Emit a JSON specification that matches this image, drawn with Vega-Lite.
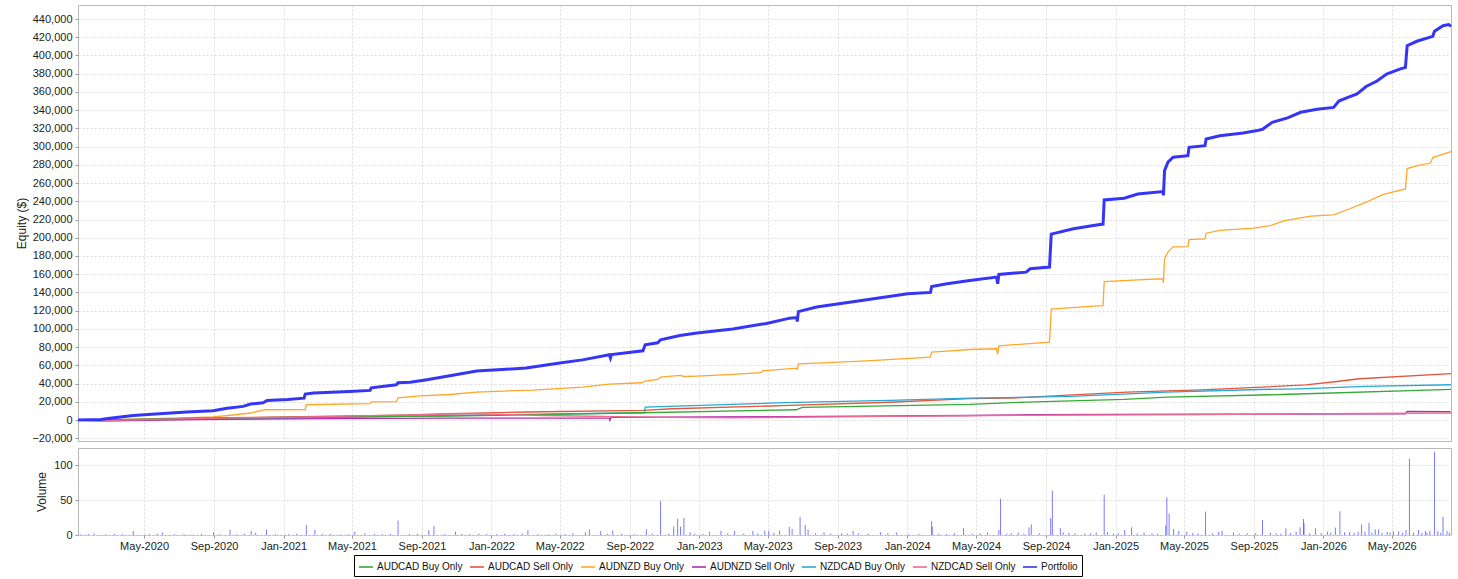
{
  "$schema": "https://vega.github.io/schema/vega-lite/v6.json",
  "padding": {"left": 14, "top": 4, "right": 8, "bottom": 0},
  "background": "white",
  "spacing": 3,
  "config": {
    "font": "Liberation Sans",
    "view": {"stroke": "#b8b8b8"},
    "axis": {
      "labelFont": "Liberation Sans", "labelFontSize": 11, "labelColor": "#222222",
      "titleFont": "Liberation Sans", "titleFontSize": 12, "titleFontWeight": "normal", "titleColor": "#222222",
      "gridColor": "#dcdcdc", "gridDash": [2, 2], "domain": false, "tickColor": "#999999", "tickSize": 3, "labelPadding": 3
    }
  },
  "datasets": {
    "equity": [
      {"series": "Portfolio", "date": "2020-01-06", "value": 0},
      {"series": "Portfolio", "date": "2020-02-15", "value": 700},
      {"series": "Portfolio", "date": "2020-03-02", "value": 2000},
      {"series": "Portfolio", "date": "2020-04-12", "value": 5000},
      {"series": "Portfolio", "date": "2020-05-28", "value": 6900},
      {"series": "Portfolio", "date": "2020-07-15", "value": 8800},
      {"series": "Portfolio", "date": "2020-08-30", "value": 10200},
      {"series": "Portfolio", "date": "2020-09-24", "value": 13000},
      {"series": "Portfolio", "date": "2020-10-22", "value": 15000},
      {"series": "Portfolio", "date": "2020-11-04", "value": 17500},
      {"series": "Portfolio", "date": "2020-11-26", "value": 19000},
      {"series": "Portfolio", "date": "2020-12-03", "value": 21500},
      {"series": "Portfolio", "date": "2021-01-08", "value": 22600},
      {"series": "Portfolio", "date": "2021-02-06", "value": 24000},
      {"series": "Portfolio", "date": "2021-02-08", "value": 28500},
      {"series": "Portfolio", "date": "2021-02-23", "value": 29600},
      {"series": "Portfolio", "date": "2021-04-27", "value": 31400},
      {"series": "Portfolio", "date": "2021-06-02", "value": 32500},
      {"series": "Portfolio", "date": "2021-06-04", "value": 35400},
      {"series": "Portfolio", "date": "2021-07-18", "value": 38700},
      {"series": "Portfolio", "date": "2021-07-21", "value": 40900},
      {"series": "Portfolio", "date": "2021-08-11", "value": 41500},
      {"series": "Portfolio", "date": "2021-09-07", "value": 44000},
      {"series": "Portfolio", "date": "2021-10-20", "value": 48500},
      {"series": "Portfolio", "date": "2021-12-06", "value": 53700},
      {"series": "Portfolio", "date": "2022-03-03", "value": 57000},
      {"series": "Portfolio", "date": "2022-05-01", "value": 62500},
      {"series": "Portfolio", "date": "2022-06-10", "value": 66000},
      {"series": "Portfolio", "date": "2022-07-27", "value": 71600},
      {"series": "Portfolio", "date": "2022-07-29", "value": 68000},
      {"series": "Portfolio", "date": "2022-07-31", "value": 71800},
      {"series": "Portfolio", "date": "2022-09-24", "value": 76000},
      {"series": "Portfolio", "date": "2022-09-28", "value": 82600},
      {"series": "Portfolio", "date": "2022-10-20", "value": 84700},
      {"series": "Portfolio", "date": "2022-10-25", "value": 88000},
      {"series": "Portfolio", "date": "2022-11-28", "value": 92800},
      {"series": "Portfolio", "date": "2022-12-28", "value": 95400},
      {"series": "Portfolio", "date": "2023-03-01", "value": 100000},
      {"series": "Portfolio", "date": "2023-04-29", "value": 106000},
      {"series": "Portfolio", "date": "2023-06-09", "value": 111800},
      {"series": "Portfolio", "date": "2023-06-21", "value": 112500},
      {"series": "Portfolio", "date": "2023-06-22", "value": 108000},
      {"series": "Portfolio", "date": "2023-06-24", "value": 119000},
      {"series": "Portfolio", "date": "2023-07-26", "value": 124000},
      {"series": "Portfolio", "date": "2023-10-22", "value": 132000},
      {"series": "Portfolio", "date": "2024-01-02", "value": 138500},
      {"series": "Portfolio", "date": "2024-02-11", "value": 140000},
      {"series": "Portfolio", "date": "2024-02-13", "value": 146500},
      {"series": "Portfolio", "date": "2024-03-11", "value": 149500},
      {"series": "Portfolio", "date": "2024-04-20", "value": 153000},
      {"series": "Portfolio", "date": "2024-06-06", "value": 156800},
      {"series": "Portfolio", "date": "2024-06-08", "value": 149500},
      {"series": "Portfolio", "date": "2024-06-10", "value": 159700},
      {"series": "Portfolio", "date": "2024-07-28", "value": 162300},
      {"series": "Portfolio", "date": "2024-08-04", "value": 166000},
      {"series": "Portfolio", "date": "2024-09-07", "value": 167800},
      {"series": "Portfolio", "date": "2024-09-10", "value": 204000},
      {"series": "Portfolio", "date": "2024-10-19", "value": 209800},
      {"series": "Portfolio", "date": "2024-11-23", "value": 213400},
      {"series": "Portfolio", "date": "2024-12-10", "value": 215000},
      {"series": "Portfolio", "date": "2024-12-12", "value": 241500},
      {"series": "Portfolio", "date": "2025-01-16", "value": 243400},
      {"series": "Portfolio", "date": "2025-02-09", "value": 248000},
      {"series": "Portfolio", "date": "2025-03-25", "value": 250700},
      {"series": "Portfolio", "date": "2025-03-26", "value": 246500},
      {"series": "Portfolio", "date": "2025-03-28", "value": 273700},
      {"series": "Portfolio", "date": "2025-04-03", "value": 283000},
      {"series": "Portfolio", "date": "2025-04-12", "value": 288400},
      {"series": "Portfolio", "date": "2025-05-08", "value": 290000},
      {"series": "Portfolio", "date": "2025-05-10", "value": 299300},
      {"series": "Portfolio", "date": "2025-06-07", "value": 301000},
      {"series": "Portfolio", "date": "2025-06-09", "value": 308400},
      {"series": "Portfolio", "date": "2025-07-03", "value": 312000},
      {"series": "Portfolio", "date": "2025-08-13", "value": 315000},
      {"series": "Portfolio", "date": "2025-09-07", "value": 317600},
      {"series": "Portfolio", "date": "2025-09-16", "value": 319000},
      {"series": "Portfolio", "date": "2025-10-03", "value": 326700},
      {"series": "Portfolio", "date": "2025-10-30", "value": 331500},
      {"series": "Portfolio", "date": "2025-11-22", "value": 337700},
      {"series": "Portfolio", "date": "2025-12-21", "value": 341000},
      {"series": "Portfolio", "date": "2026-01-19", "value": 343000},
      {"series": "Portfolio", "date": "2026-01-28", "value": 350000},
      {"series": "Portfolio", "date": "2026-02-13", "value": 354000},
      {"series": "Portfolio", "date": "2026-03-01", "value": 357800},
      {"series": "Portfolio", "date": "2026-03-17", "value": 366000},
      {"series": "Portfolio", "date": "2026-04-05", "value": 372000},
      {"series": "Portfolio", "date": "2026-04-22", "value": 379700},
      {"series": "Portfolio", "date": "2026-05-15", "value": 385000},
      {"series": "Portfolio", "date": "2026-05-25", "value": 387000},
      {"series": "Portfolio", "date": "2026-05-28", "value": 410800},
      {"series": "Portfolio", "date": "2026-06-14", "value": 415600},
      {"series": "Portfolio", "date": "2026-07-12", "value": 421000},
      {"series": "Portfolio", "date": "2026-07-15", "value": 426500},
      {"series": "Portfolio", "date": "2026-07-30", "value": 432700},
      {"series": "Portfolio", "date": "2026-08-09", "value": 434000},
      {"series": "Portfolio", "date": "2026-08-13", "value": 432000},

      {"series": "AUDNZD Buy Only", "date": "2020-01-06", "value": 0},
      {"series": "AUDNZD Buy Only", "date": "2020-03-15", "value": 300},
      {"series": "AUDNZD Buy Only", "date": "2020-05-15", "value": 1500},
      {"series": "AUDNZD Buy Only", "date": "2020-07-20", "value": 2500},
      {"series": "AUDNZD Buy Only", "date": "2020-08-30", "value": 3500},
      {"series": "AUDNZD Buy Only", "date": "2020-09-26", "value": 5000},
      {"series": "AUDNZD Buy Only", "date": "2020-11-04", "value": 7700},
      {"series": "AUDNZD Buy Only", "date": "2020-11-30", "value": 11300},
      {"series": "AUDNZD Buy Only", "date": "2021-02-08", "value": 11500},
      {"series": "AUDNZD Buy Only", "date": "2021-02-10", "value": 16800},
      {"series": "AUDNZD Buy Only", "date": "2021-06-02", "value": 17900},
      {"series": "AUDNZD Buy Only", "date": "2021-06-04", "value": 20000},
      {"series": "AUDNZD Buy Only", "date": "2021-07-18", "value": 20300},
      {"series": "AUDNZD Buy Only", "date": "2021-07-21", "value": 24400},
      {"series": "AUDNZD Buy Only", "date": "2021-08-28", "value": 26500},
      {"series": "AUDNZD Buy Only", "date": "2021-10-20", "value": 28000},
      {"series": "AUDNZD Buy Only", "date": "2021-12-06", "value": 30700},
      {"series": "AUDNZD Buy Only", "date": "2022-03-15", "value": 32900},
      {"series": "AUDNZD Buy Only", "date": "2022-06-10", "value": 36200},
      {"series": "AUDNZD Buy Only", "date": "2022-07-27", "value": 39500},
      {"series": "AUDNZD Buy Only", "date": "2022-09-22", "value": 40900},
      {"series": "AUDNZD Buy Only", "date": "2022-09-28", "value": 42800},
      {"series": "AUDNZD Buy Only", "date": "2022-10-20", "value": 44500},
      {"series": "AUDNZD Buy Only", "date": "2022-10-25", "value": 47100},
      {"series": "AUDNZD Buy Only", "date": "2022-11-28", "value": 48900},
      {"series": "AUDNZD Buy Only", "date": "2022-12-05", "value": 47800},
      {"series": "AUDNZD Buy Only", "date": "2022-12-28", "value": 48200},
      {"series": "AUDNZD Buy Only", "date": "2023-03-01", "value": 50000},
      {"series": "AUDNZD Buy Only", "date": "2023-04-20", "value": 51900},
      {"series": "AUDNZD Buy Only", "date": "2023-04-22", "value": 54000},
      {"series": "AUDNZD Buy Only", "date": "2023-06-21", "value": 57000},
      {"series": "AUDNZD Buy Only", "date": "2023-06-22", "value": 55000},
      {"series": "AUDNZD Buy Only", "date": "2023-06-24", "value": 61700},
      {"series": "AUDNZD Buy Only", "date": "2023-07-26", "value": 62500},
      {"series": "AUDNZD Buy Only", "date": "2023-10-22", "value": 65000},
      {"series": "AUDNZD Buy Only", "date": "2024-02-11", "value": 69000},
      {"series": "AUDNZD Buy Only", "date": "2024-02-13", "value": 74600},
      {"series": "AUDNZD Buy Only", "date": "2024-03-11", "value": 75700},
      {"series": "AUDNZD Buy Only", "date": "2024-04-20", "value": 77400},
      {"series": "AUDNZD Buy Only", "date": "2024-06-06", "value": 78200},
      {"series": "AUDNZD Buy Only", "date": "2024-06-08", "value": 72400},
      {"series": "AUDNZD Buy Only", "date": "2024-06-10", "value": 81500},
      {"series": "AUDNZD Buy Only", "date": "2024-09-07", "value": 85500},
      {"series": "AUDNZD Buy Only", "date": "2024-09-10", "value": 121700},
      {"series": "AUDNZD Buy Only", "date": "2024-11-23", "value": 125000},
      {"series": "AUDNZD Buy Only", "date": "2024-12-10", "value": 125500},
      {"series": "AUDNZD Buy Only", "date": "2024-12-12", "value": 152000},
      {"series": "AUDNZD Buy Only", "date": "2025-02-09", "value": 153800},
      {"series": "AUDNZD Buy Only", "date": "2025-03-25", "value": 155000},
      {"series": "AUDNZD Buy Only", "date": "2025-03-26", "value": 150500},
      {"series": "AUDNZD Buy Only", "date": "2025-03-28", "value": 176900},
      {"series": "AUDNZD Buy Only", "date": "2025-04-03", "value": 184200},
      {"series": "AUDNZD Buy Only", "date": "2025-04-12", "value": 190000},
      {"series": "AUDNZD Buy Only", "date": "2025-05-08", "value": 190200},
      {"series": "AUDNZD Buy Only", "date": "2025-05-10", "value": 198000},
      {"series": "AUDNZD Buy Only", "date": "2025-06-07", "value": 198800},
      {"series": "AUDNZD Buy Only", "date": "2025-06-09", "value": 205000},
      {"series": "AUDNZD Buy Only", "date": "2025-07-03", "value": 208000},
      {"series": "AUDNZD Buy Only", "date": "2025-09-01", "value": 210500},
      {"series": "AUDNZD Buy Only", "date": "2025-09-30", "value": 213400},
      {"series": "AUDNZD Buy Only", "date": "2025-10-25", "value": 218900},
      {"series": "AUDNZD Buy Only", "date": "2025-12-10", "value": 223700},
      {"series": "AUDNZD Buy Only", "date": "2026-01-19", "value": 225000},
      {"series": "AUDNZD Buy Only", "date": "2026-02-13", "value": 231000},
      {"series": "AUDNZD Buy Only", "date": "2026-03-17", "value": 239000},
      {"series": "AUDNZD Buy Only", "date": "2026-04-15", "value": 247400},
      {"series": "AUDNZD Buy Only", "date": "2026-05-25", "value": 253600},
      {"series": "AUDNZD Buy Only", "date": "2026-05-28", "value": 276000},
      {"series": "AUDNZD Buy Only", "date": "2026-06-14", "value": 279000},
      {"series": "AUDNZD Buy Only", "date": "2026-07-08", "value": 282000},
      {"series": "AUDNZD Buy Only", "date": "2026-07-12", "value": 288000},
      {"series": "AUDNZD Buy Only", "date": "2026-08-13", "value": 294500},

      {"series": "AUDCAD Sell Only", "date": "2020-01-06", "value": 0},
      {"series": "AUDCAD Sell Only", "date": "2020-03-01", "value": -500},
      {"series": "AUDCAD Sell Only", "date": "2020-06-01", "value": 1200},
      {"series": "AUDCAD Sell Only", "date": "2020-10-01", "value": 2500},
      {"series": "AUDCAD Sell Only", "date": "2021-01-01", "value": 3500},
      {"series": "AUDCAD Sell Only", "date": "2021-05-01", "value": 4500},
      {"series": "AUDCAD Sell Only", "date": "2021-08-01", "value": 5500},
      {"series": "AUDCAD Sell Only", "date": "2021-10-20", "value": 6900},
      {"series": "AUDCAD Sell Only", "date": "2022-03-03", "value": 8800},
      {"series": "AUDCAD Sell Only", "date": "2022-09-24", "value": 10500},
      {"series": "AUDCAD Sell Only", "date": "2022-11-15", "value": 12400},
      {"series": "AUDCAD Sell Only", "date": "2023-06-09", "value": 16000},
      {"series": "AUDCAD Sell Only", "date": "2023-12-01", "value": 19500},
      {"series": "AUDCAD Sell Only", "date": "2024-04-20", "value": 23400},
      {"series": "AUDCAD Sell Only", "date": "2024-06-30", "value": 24000},
      {"series": "AUDCAD Sell Only", "date": "2024-10-01", "value": 27000},
      {"series": "AUDCAD Sell Only", "date": "2025-01-20", "value": 30700},
      {"series": "AUDCAD Sell Only", "date": "2025-06-01", "value": 33000},
      {"series": "AUDCAD Sell Only", "date": "2025-09-15", "value": 36200},
      {"series": "AUDCAD Sell Only", "date": "2025-12-01", "value": 38500},
      {"series": "AUDCAD Sell Only", "date": "2026-01-25", "value": 42300},
      {"series": "AUDCAD Sell Only", "date": "2026-03-05", "value": 45300},
      {"series": "AUDCAD Sell Only", "date": "2026-08-13", "value": 51000},

      {"series": "NZDCAD Buy Only", "date": "2020-01-06", "value": 0},
      {"series": "NZDCAD Buy Only", "date": "2020-02-10", "value": -1200},
      {"series": "NZDCAD Buy Only", "date": "2020-03-20", "value": -800},
      {"series": "NZDCAD Buy Only", "date": "2020-04-10", "value": 300},
      {"series": "NZDCAD Buy Only", "date": "2020-09-01", "value": 1000},
      {"series": "NZDCAD Buy Only", "date": "2021-03-01", "value": 2500},
      {"series": "NZDCAD Buy Only", "date": "2021-10-20", "value": 5000},
      {"series": "NZDCAD Buy Only", "date": "2022-09-27", "value": 8000},
      {"series": "NZDCAD Buy Only", "date": "2022-09-28", "value": 14200},
      {"series": "NZDCAD Buy Only", "date": "2023-06-01", "value": 19000},
      {"series": "NZDCAD Buy Only", "date": "2023-12-01", "value": 21500},
      {"series": "NZDCAD Buy Only", "date": "2024-04-20", "value": 24000},
      {"series": "NZDCAD Buy Only", "date": "2024-10-15", "value": 26000},
      {"series": "NZDCAD Buy Only", "date": "2025-04-01", "value": 30700},
      {"series": "NZDCAD Buy Only", "date": "2025-09-10", "value": 33500},
      {"series": "NZDCAD Buy Only", "date": "2025-11-20", "value": 34300},
      {"series": "NZDCAD Buy Only", "date": "2026-03-15", "value": 36900},
      {"series": "NZDCAD Buy Only", "date": "2026-08-13", "value": 38700},

      {"series": "AUDCAD Buy Only", "date": "2020-01-06", "value": 0},
      {"series": "AUDCAD Buy Only", "date": "2020-05-01", "value": 1100},
      {"series": "AUDCAD Buy Only", "date": "2020-10-01", "value": 2500},
      {"series": "AUDCAD Buy Only", "date": "2021-07-20", "value": 4000},
      {"series": "AUDCAD Buy Only", "date": "2021-10-20", "value": 4400},
      {"series": "AUDCAD Buy Only", "date": "2022-09-24", "value": 8000},
      {"series": "AUDCAD Buy Only", "date": "2023-06-20", "value": 11300},
      {"series": "AUDCAD Buy Only", "date": "2023-07-01", "value": 13800},
      {"series": "AUDCAD Buy Only", "date": "2024-04-20", "value": 17100},
      {"series": "AUDCAD Buy Only", "date": "2024-07-28", "value": 19700},
      {"series": "AUDCAD Buy Only", "date": "2025-01-16", "value": 22600},
      {"series": "AUDCAD Buy Only", "date": "2025-04-01", "value": 25200},
      {"series": "AUDCAD Buy Only", "date": "2025-10-20", "value": 28000},
      {"series": "AUDCAD Buy Only", "date": "2026-08-13", "value": 33600},

      {"series": "AUDNZD Sell Only", "date": "2020-01-06", "value": 0},
      {"series": "AUDNZD Sell Only", "date": "2020-04-01", "value": -500},
      {"series": "AUDNZD Sell Only", "date": "2020-08-01", "value": 500},
      {"series": "AUDNZD Sell Only", "date": "2021-04-01", "value": 1500},
      {"series": "AUDNZD Sell Only", "date": "2021-10-20", "value": 2200},
      {"series": "AUDNZD Sell Only", "date": "2022-07-27", "value": 2200},
      {"series": "AUDNZD Sell Only", "date": "2022-07-28", "value": -400},
      {"series": "AUDNZD Sell Only", "date": "2022-07-30", "value": 2900},
      {"series": "AUDNZD Sell Only", "date": "2023-06-01", "value": 3700},
      {"series": "AUDNZD Sell Only", "date": "2024-04-20", "value": 5000},
      {"series": "AUDNZD Sell Only", "date": "2024-08-04", "value": 5800},
      {"series": "AUDNZD Sell Only", "date": "2025-06-01", "value": 6400},
      {"series": "AUDNZD Sell Only", "date": "2026-05-25", "value": 6900},
      {"series": "AUDNZD Sell Only", "date": "2026-05-28", "value": 9400},
      {"series": "AUDNZD Sell Only", "date": "2026-08-10", "value": 9300},
      {"series": "AUDNZD Sell Only", "date": "2026-08-13", "value": 8200},

      {"series": "NZDCAD Sell Only", "date": "2020-01-06", "value": 0},
      {"series": "NZDCAD Sell Only", "date": "2020-02-10", "value": -1000},
      {"series": "NZDCAD Sell Only", "date": "2020-06-01", "value": 1000},
      {"series": "NZDCAD Sell Only", "date": "2021-01-01", "value": 3000},
      {"series": "NZDCAD Sell Only", "date": "2021-09-01", "value": 6000},
      {"series": "NZDCAD Sell Only", "date": "2021-11-15", "value": 7000},
      {"series": "NZDCAD Sell Only", "date": "2022-04-01", "value": 5000},
      {"series": "NZDCAD Sell Only", "date": "2022-11-01", "value": 3000},
      {"series": "NZDCAD Sell Only", "date": "2023-03-01", "value": 2500},
      {"series": "NZDCAD Sell Only", "date": "2023-12-01", "value": 4000},
      {"series": "NZDCAD Sell Only", "date": "2024-09-01", "value": 5500},
      {"series": "NZDCAD Sell Only", "date": "2025-06-01", "value": 6000},
      {"series": "NZDCAD Sell Only", "date": "2026-01-15", "value": 7000},
      {"series": "NZDCAD Sell Only", "date": "2026-08-13", "value": 7700}
    ],
    "volume": [
      {"date": "2020-02-03", "volume": 2.4}, {"date": "2020-04-12", "volume": 5.8}, {"date": "2020-06-02", "volume": 3.8},
      {"date": "2020-08-31", "volume": 3.8}, {"date": "2020-09-29", "volume": 7.7}, {"date": "2020-11-05", "volume": 5.8},
      {"date": "2020-11-13", "volume": 3.4}, {"date": "2020-12-02", "volume": 7.7}, {"date": "2021-02-10", "volume": 14.4},
      {"date": "2021-02-25", "volume": 7.7}, {"date": "2021-05-06", "volume": 4.8}, {"date": "2021-07-21", "volume": 20.7},
      {"date": "2021-09-13", "volume": 7}, {"date": "2021-09-22", "volume": 13}, {"date": "2021-10-30", "volume": 5},
      {"date": "2022-03-06", "volume": 7}, {"date": "2022-06-15", "volume": 3.8}, {"date": "2022-06-22", "volume": 8},
      {"date": "2022-07-12", "volume": 5.8}, {"date": "2022-08-02", "volume": 6.3}, {"date": "2022-09-30", "volume": 8.2},
      {"date": "2022-10-25", "volume": 49}, {"date": "2022-11-17", "volume": 12}, {"date": "2022-11-24", "volume": 23.5},
      {"date": "2022-11-29", "volume": 12}, {"date": "2022-12-05", "volume": 24.5}, {"date": "2022-12-16", "volume": 3.8},
      {"date": "2023-01-19", "volume": 4.8}, {"date": "2023-02-08", "volume": 5.8}, {"date": "2023-03-04", "volume": 5.8},
      {"date": "2023-04-05", "volume": 5.8}, {"date": "2023-04-26", "volume": 6.3}, {"date": "2023-05-03", "volume": 5.8},
      {"date": "2023-05-22", "volume": 6.3}, {"date": "2023-06-08", "volume": 11.5}, {"date": "2023-06-13", "volume": 8.7},
      {"date": "2023-06-27", "volume": 26}, {"date": "2023-07-06", "volume": 14.4}, {"date": "2023-07-11", "volume": 7.7},
      {"date": "2023-08-08", "volume": 3.8}, {"date": "2023-09-28", "volume": 5.8}, {"date": "2023-11-15", "volume": 4.3},
      {"date": "2023-12-13", "volume": 3.8}, {"date": "2024-02-13", "volume": 20}, {"date": "2024-02-14", "volume": 12},
      {"date": "2024-04-09", "volume": 10}, {"date": "2024-05-21", "volume": 3.8}, {"date": "2024-06-10", "volume": 7.2},
      {"date": "2024-06-13", "volume": 52}, {"date": "2024-07-14", "volume": 3.4}, {"date": "2024-08-02", "volume": 11},
      {"date": "2024-08-06", "volume": 15.4}, {"date": "2024-09-09", "volume": 24}, {"date": "2024-09-12", "volume": 63.5},
      {"date": "2024-09-26", "volume": 10}, {"date": "2024-10-01", "volume": 3.8}, {"date": "2024-10-11", "volume": 2.9},
      {"date": "2024-11-28", "volume": 3.8}, {"date": "2024-12-12", "volume": 58}, {"date": "2024-12-18", "volume": 4.3},
      {"date": "2025-01-17", "volume": 7.2}, {"date": "2025-01-29", "volume": 11}, {"date": "2025-02-20", "volume": 3.8},
      {"date": "2025-03-30", "volume": 13.5}, {"date": "2025-04-01", "volume": 54}, {"date": "2025-04-05", "volume": 31},
      {"date": "2025-04-13", "volume": 8.7}, {"date": "2025-04-22", "volume": 5.8}, {"date": "2025-05-06", "volume": 4.8},
      {"date": "2025-06-08", "volume": 33.7}, {"date": "2025-07-01", "volume": 4.3}, {"date": "2025-07-07", "volume": 5.8},
      {"date": "2025-07-27", "volume": 3.8}, {"date": "2025-09-16", "volume": 21.6}, {"date": "2025-09-30", "volume": 3.4},
      {"date": "2025-10-27", "volume": 9.6}, {"date": "2025-11-14", "volume": 4.8}, {"date": "2025-11-21", "volume": 11},
      {"date": "2025-11-27", "volume": 23}, {"date": "2025-11-28", "volume": 16.8}, {"date": "2025-12-18", "volume": 9.6},
      {"date": "2026-01-08", "volume": 4.8}, {"date": "2026-01-22", "volume": 10.6}, {"date": "2026-01-30", "volume": 34},
      {"date": "2026-02-07", "volume": 3.8}, {"date": "2026-02-16", "volume": 4.3}, {"date": "2026-03-03", "volume": 4.8},
      {"date": "2026-03-09", "volume": 15}, {"date": "2026-03-15", "volume": 4.8}, {"date": "2026-03-22", "volume": 17.3},
      {"date": "2026-04-02", "volume": 8.2}, {"date": "2026-04-08", "volume": 8.2}, {"date": "2026-04-23", "volume": 4.3},
      {"date": "2026-05-04", "volume": 5.3}, {"date": "2026-05-13", "volume": 5.3}, {"date": "2026-05-26", "volume": 7.2},
      {"date": "2026-06-01", "volume": 109.6}, {"date": "2026-06-17", "volume": 7.2}, {"date": "2026-06-29", "volume": 5.8},
      {"date": "2026-07-07", "volume": 5.8}, {"date": "2026-07-15", "volume": 119.7}, {"date": "2026-07-21", "volume": 5.8},
      {"date": "2026-07-30", "volume": 26}, {"date": "2026-08-06", "volume": 5.8},
      {"date": "2020-01-10", "volume": 1.2}, {"date": "2020-01-24", "volume": 1.5}, {"date": "2020-02-24", "volume": 1},
      {"date": "2020-03-10", "volume": 1.8}, {"date": "2020-03-24", "volume": 1.2}, {"date": "2020-05-10", "volume": 1.5},
      {"date": "2020-05-24", "volume": 2}, {"date": "2020-06-24", "volume": 1.2}, {"date": "2020-07-10", "volume": 1.5},
      {"date": "2020-07-24", "volume": 1}, {"date": "2020-08-10", "volume": 1.8}, {"date": "2020-09-10", "volume": 1.5},
      {"date": "2020-10-10", "volume": 1.2}, {"date": "2020-10-24", "volume": 2}, {"date": "2020-12-18", "volume": 1.5},
      {"date": "2021-01-10", "volume": 1.2}, {"date": "2021-01-24", "volume": 1.8}, {"date": "2021-03-10", "volume": 1.5},
      {"date": "2021-03-24", "volume": 2}, {"date": "2021-04-10", "volume": 1.2}, {"date": "2021-04-24", "volume": 1.5},
      {"date": "2021-05-24", "volume": 2.5}, {"date": "2021-06-10", "volume": 1.5}, {"date": "2021-06-24", "volume": 1.2},
      {"date": "2021-07-08", "volume": 1.8}, {"date": "2021-08-10", "volume": 1.5}, {"date": "2021-08-24", "volume": 2},
      {"date": "2021-10-10", "volume": 1.5}, {"date": "2021-11-10", "volume": 1.8}, {"date": "2021-11-24", "volume": 1.2},
      {"date": "2021-12-10", "volume": 2}, {"date": "2021-12-24", "volume": 1.5}, {"date": "2022-01-10", "volume": 1.2},
      {"date": "2022-01-24", "volume": 1.8}, {"date": "2022-02-10", "volume": 1.5}, {"date": "2022-02-24", "volume": 2.2},
      {"date": "2022-03-24", "volume": 1.5}, {"date": "2022-04-10", "volume": 1.2}, {"date": "2022-04-24", "volume": 2},
      {"date": "2022-05-10", "volume": 1.5}, {"date": "2022-05-24", "volume": 2.5}, {"date": "2022-07-24", "volume": 1.8},
      {"date": "2022-08-18", "volume": 2}, {"date": "2022-09-10", "volume": 1.5}, {"date": "2022-10-10", "volume": 2.2},
      {"date": "2022-11-08", "volume": 1.8}, {"date": "2022-12-24", "volume": 2}, {"date": "2023-01-08", "volume": 1.5},
      {"date": "2023-02-20", "volume": 2.5}, {"date": "2023-03-20", "volume": 2}, {"date": "2023-04-14", "volume": 2.5},
      {"date": "2023-05-12", "volume": 3}, {"date": "2023-07-24", "volume": 2.5}, {"date": "2023-08-20", "volume": 2},
      {"date": "2023-09-08", "volume": 2.5}, {"date": "2023-09-18", "volume": 2}, {"date": "2023-10-08", "volume": 2.5},
      {"date": "2023-10-24", "volume": 2}, {"date": "2023-11-28", "volume": 2.5}, {"date": "2024-01-04", "volume": 1.2},
      {"date": "2024-01-22", "volume": 1.5}, {"date": "2024-02-26", "volume": 2}, {"date": "2024-03-10", "volume": 1.5},
      {"date": "2024-03-24", "volume": 2.5}, {"date": "2024-04-24", "volume": 2}, {"date": "2024-05-08", "volume": 2.5},
      {"date": "2024-06-24", "volume": 2}, {"date": "2024-07-02", "volume": 2.5}, {"date": "2024-07-24", "volume": 2},
      {"date": "2024-08-20", "volume": 2.5}, {"date": "2024-10-22", "volume": 2.5}, {"date": "2024-11-08", "volume": 2},
      {"date": "2024-11-18", "volume": 2.5}, {"date": "2024-12-28", "volume": 2}, {"date": "2025-01-06", "volume": 2.5},
      {"date": "2025-02-08", "volume": 2}, {"date": "2025-03-06", "volume": 2.5}, {"date": "2025-03-16", "volume": 2},
      {"date": "2025-05-16", "volume": 2.5}, {"date": "2025-05-26", "volume": 2}, {"date": "2025-06-20", "volume": 2.5},
      {"date": "2025-08-06", "volume": 2}, {"date": "2025-08-20", "volume": 2.5}, {"date": "2025-09-04", "volume": 2.5},
      {"date": "2025-10-10", "volume": 2.5}, {"date": "2025-10-18", "volume": 2}, {"date": "2025-11-04", "volume": 3},
      {"date": "2025-12-08", "volume": 2.5}, {"date": "2025-12-28", "volume": 3}, {"date": "2026-01-14", "volume": 3.5},
      {"date": "2026-02-24", "volume": 3}, {"date": "2026-03-27", "volume": 3.5}, {"date": "2026-04-14", "volume": 3},
      {"date": "2026-04-28", "volume": 3.5}, {"date": "2026-05-20", "volume": 3}, {"date": "2026-06-08", "volume": 3.5},
      {"date": "2026-06-23", "volume": 3}, {"date": "2026-07-02", "volume": 3.5}, {"date": "2026-07-26", "volume": 3},
      {"date": "2026-08-10", "volume": 3.5}
    ]
  },
  "vconcat": [
    {
      "width": 1373,
      "height": 436,
      "data": {"name": "equity"},
      "encoding": {
        "x": {
          "field": "date", "type": "temporal",
          "scale": {"type": "utc", "domain": [{"year": 2020, "month": 1, "date": 6, "utc": true}, {"year": 2026, "month": 8, "date": 13, "utc": true}], "nice": false},
          "axis": {
            "title": null, "labels": false, "ticks": false, "minExtent": 0, "maxExtent": 0,
            "values": [
              {"year": 2020, "month": 5, "date": 1, "utc": true}, {"year": 2020, "month": 9, "date": 1, "utc": true},
              {"year": 2021, "month": 1, "date": 1, "utc": true}, {"year": 2021, "month": 5, "date": 1, "utc": true},
              {"year": 2021, "month": 9, "date": 1, "utc": true}, {"year": 2022, "month": 1, "date": 1, "utc": true},
              {"year": 2022, "month": 5, "date": 1, "utc": true}, {"year": 2022, "month": 9, "date": 1, "utc": true},
              {"year": 2023, "month": 1, "date": 1, "utc": true}, {"year": 2023, "month": 5, "date": 1, "utc": true},
              {"year": 2023, "month": 9, "date": 1, "utc": true}, {"year": 2024, "month": 1, "date": 1, "utc": true},
              {"year": 2024, "month": 5, "date": 1, "utc": true}, {"year": 2024, "month": 9, "date": 1, "utc": true},
              {"year": 2025, "month": 1, "date": 1, "utc": true}, {"year": 2025, "month": 5, "date": 1, "utc": true},
              {"year": 2025, "month": 9, "date": 1, "utc": true}, {"year": 2026, "month": 1, "date": 1, "utc": true},
              {"year": 2026, "month": 5, "date": 1, "utc": true}
            ]
          }
        },
        "y": {
          "field": "value", "type": "quantitative",
          "scale": {"domain": [-23000, 455400], "nice": false, "zero": false},
          "axis": {
            "title": "Equity ($)", "titleX": -57, "titleBaseline": "middle", "format": ",d",
            "values": [-20000, 0, 20000, 40000, 60000, 80000, 100000, 120000, 140000, 160000, 180000, 200000, 220000, 240000, 260000, 280000, 300000, 320000, 340000, 360000, 380000, 400000, 420000, 440000]
          }
        },
        "color": {
          "field": "series", "type": "nominal",
          "scale": {
            "domain": ["AUDCAD Buy Only", "AUDCAD Sell Only", "AUDNZD Buy Only", "AUDNZD Sell Only", "NZDCAD Buy Only", "NZDCAD Sell Only", "Portfolio"],
            "range": ["#38a838", "#e4573a", "#ffa62b", "#b02db0", "#27a9d8", "#ee6b8f", "#3535f5"]
          },
          "legend": {
            "orient": "none", "legendX": 276, "legendY": 550, "direction": "horizontal", "columns": 7,
            "title": null, "symbolType": "stroke", "symbolSize": 196, "symbolStrokeWidth": 1.6,
            "labelFont": "Liberation Sans", "labelFontSize": 10, "labelColor": "#111111", "labelOffset": 3,
            "columnPadding": 3, "strokeColor": "#000000", "padding": 4, "fillColor": "white"
          }
        }
      },
      "layer": [
        {
          "transform": [{"filter": "datum.series !== 'Portfolio'"}],
          "mark": {"type": "line", "strokeWidth": 1.3}
        },
        {
          "transform": [{"filter": "datum.series === 'Portfolio'"}],
          "mark": {"type": "line", "strokeWidth": 3}
        }
      ]
    },
    {
      "width": 1373,
      "height": 87,
      "data": {"name": "volume"},
      "mark": {"type": "rule", "color": "#3434ff", "opacity": 0.65, "strokeWidth": 1},
      "encoding": {
        "x": {
          "field": "date", "type": "temporal",
          "scale": {"type": "utc", "domain": [{"year": 2020, "month": 1, "date": 6, "utc": true}, {"year": 2026, "month": 8, "date": 13, "utc": true}], "nice": false},
          "axis": {
            "title": null, "format": "%b-%Y", "labelPadding": 2,
            "values": [
              {"year": 2020, "month": 5, "date": 1, "utc": true}, {"year": 2020, "month": 9, "date": 1, "utc": true},
              {"year": 2021, "month": 1, "date": 1, "utc": true}, {"year": 2021, "month": 5, "date": 1, "utc": true},
              {"year": 2021, "month": 9, "date": 1, "utc": true}, {"year": 2022, "month": 1, "date": 1, "utc": true},
              {"year": 2022, "month": 5, "date": 1, "utc": true}, {"year": 2022, "month": 9, "date": 1, "utc": true},
              {"year": 2023, "month": 1, "date": 1, "utc": true}, {"year": 2023, "month": 5, "date": 1, "utc": true},
              {"year": 2023, "month": 9, "date": 1, "utc": true}, {"year": 2024, "month": 1, "date": 1, "utc": true},
              {"year": 2024, "month": 5, "date": 1, "utc": true}, {"year": 2024, "month": 9, "date": 1, "utc": true},
              {"year": 2025, "month": 1, "date": 1, "utc": true}, {"year": 2025, "month": 5, "date": 1, "utc": true},
              {"year": 2025, "month": 9, "date": 1, "utc": true}, {"year": 2026, "month": 1, "date": 1, "utc": true},
              {"year": 2026, "month": 5, "date": 1, "utc": true}
            ]
          }
        },
        "y": {
          "field": "volume", "type": "quantitative",
          "scale": {"domain": [0, 125], "nice": false},
          "axis": {"title": "Volume", "titleX": -37, "titleBaseline": "middle", "values": [0, 50, 100]}
        },
        "y2": {"datum": 0}
      }
    }
  ]
}
